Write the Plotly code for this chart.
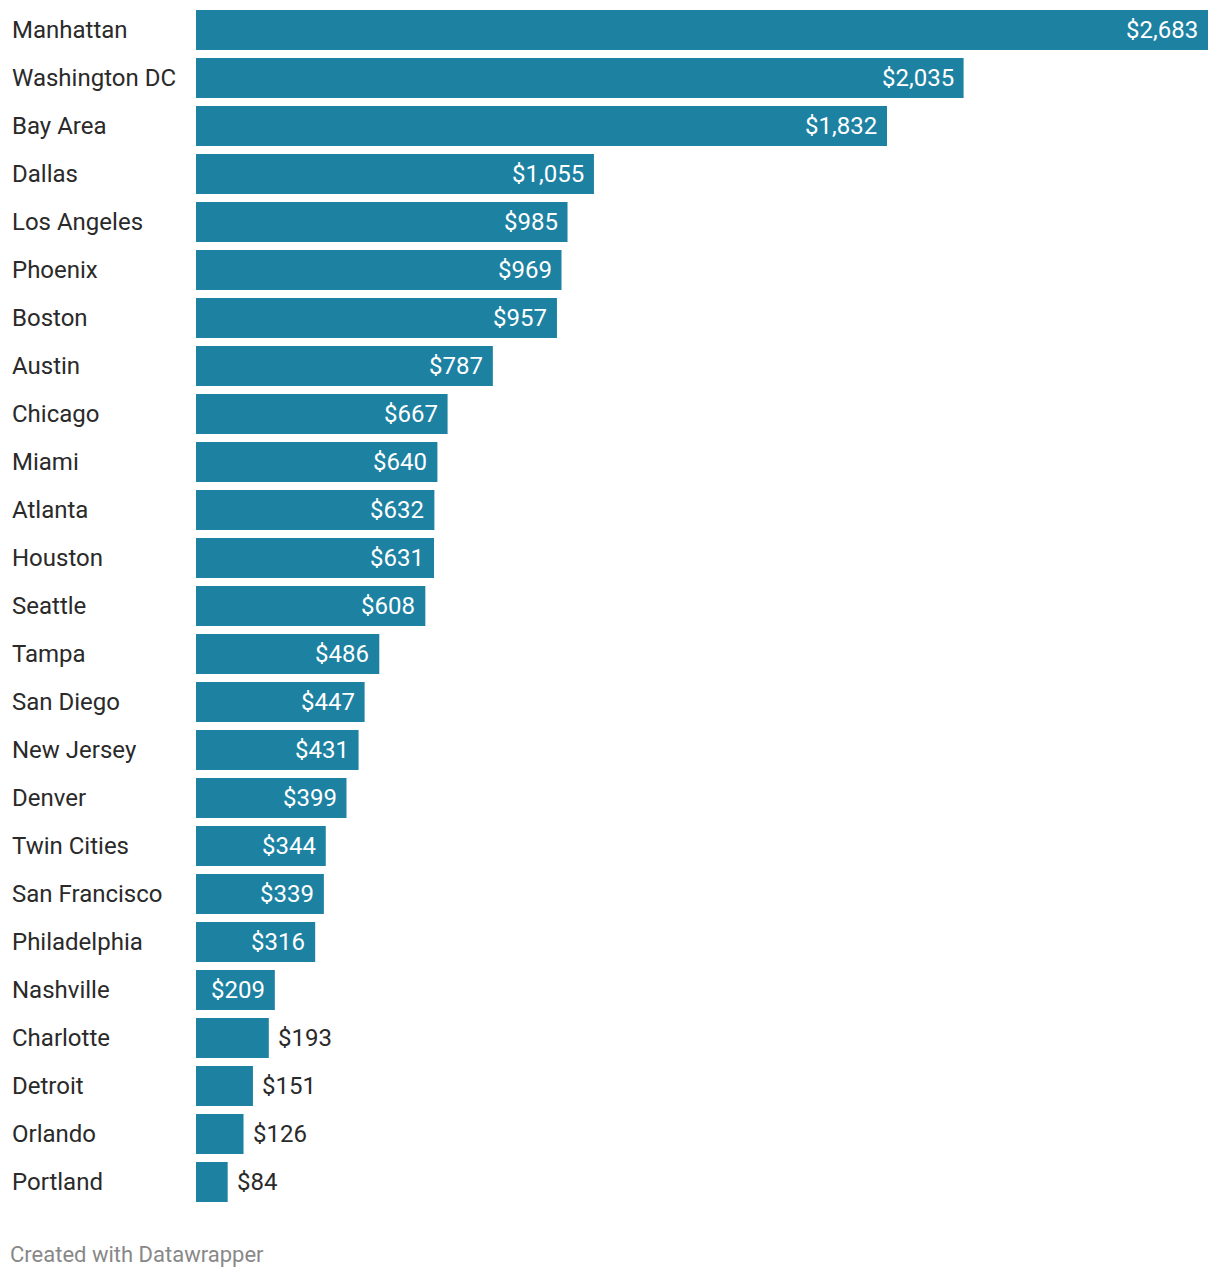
import plotly.graph_objects as go

cities = ["Manhattan", "Washington DC", "Bay Area", "Dallas", "Los Angeles", "Phoenix",
          "Boston", "Austin", "Chicago", "Miami", "Atlanta", "Houston", "Seattle", "Tampa",
          "San Diego", "New Jersey", "Denver", "Twin Cities", "San Francisco", "Philadelphia",
          "Nashville", "Charlotte", "Detroit", "Orlando", "Portland"]
values = [2683, 2035, 1832, 1055, 985, 969, 957, 787, 667, 640, 632, 631, 608, 486,
          447, 431, 399, 344, 339, 316, 209, 193, 151, 126, 84]
labels = ["$" + format(v, ",") for v in values]

BAR = "#1d81a2"
FONT = "Roboto, 'Noto Sans', sans-serif"
# page has an 8px body margin, so the figure is drawn 8px smaller
W, H = 1212, 1270
ML, MR, MT, MB = 188, 12, 0, 72
plot_w = W - ML - MR
plot_h = H - MT - MB
n = len(cities)
gap = 8 / 48
top = -0.5 + gap / 2 - 2 / 48

fig = go.Figure(go.Bar(
    x=values, y=cities, orientation="h",
    marker=dict(color=BAR, line=dict(width=0)),
    hoverinfo="skip",
))

annotations = []
for c, v, t in zip(cities, values, labels):
    inside = v >= 200
    annotations.append(dict(
        x=v, y=c, xref="x", yref="y", text=t, showarrow=False,
        xanchor="right" if inside else "left",
        xshift=-8 if inside else 7,
        font=dict(family=FONT, size=24, color="#ffffff" if inside else "#2a2a2a"),
    ))
    annotations.append(dict(
        x=-(ML - 2) / plot_w, y=c, xref="paper", yref="y", text=c, showarrow=False,
        xanchor="left", font=dict(family=FONT, size=24, color="#2a2a2a"),
    ))

annotations.append(dict(
    x=-(ML - 0) / plot_w, y=0, xref="paper", yref="paper", yshift=-48,
    text="Created with Datawrapper", showarrow=False, xanchor="left", yanchor="middle",
    font=dict(family=FONT, size=22, color="#888888"),
))

fig.update_layout(
    width=W, height=H,
    margin=dict(l=ML, r=MR, t=MT, b=MB, pad=0),
    paper_bgcolor="white", plot_bgcolor="white",
    bargap=gap,
    showlegend=False,
    xaxis=dict(range=[0, max(values)], visible=False, fixedrange=True),
    yaxis=dict(range=[n - 0.5, top], showticklabels=False, showgrid=False,
               zeroline=False, fixedrange=True),
    annotations=annotations,
)

fig.write_html("out.html")
